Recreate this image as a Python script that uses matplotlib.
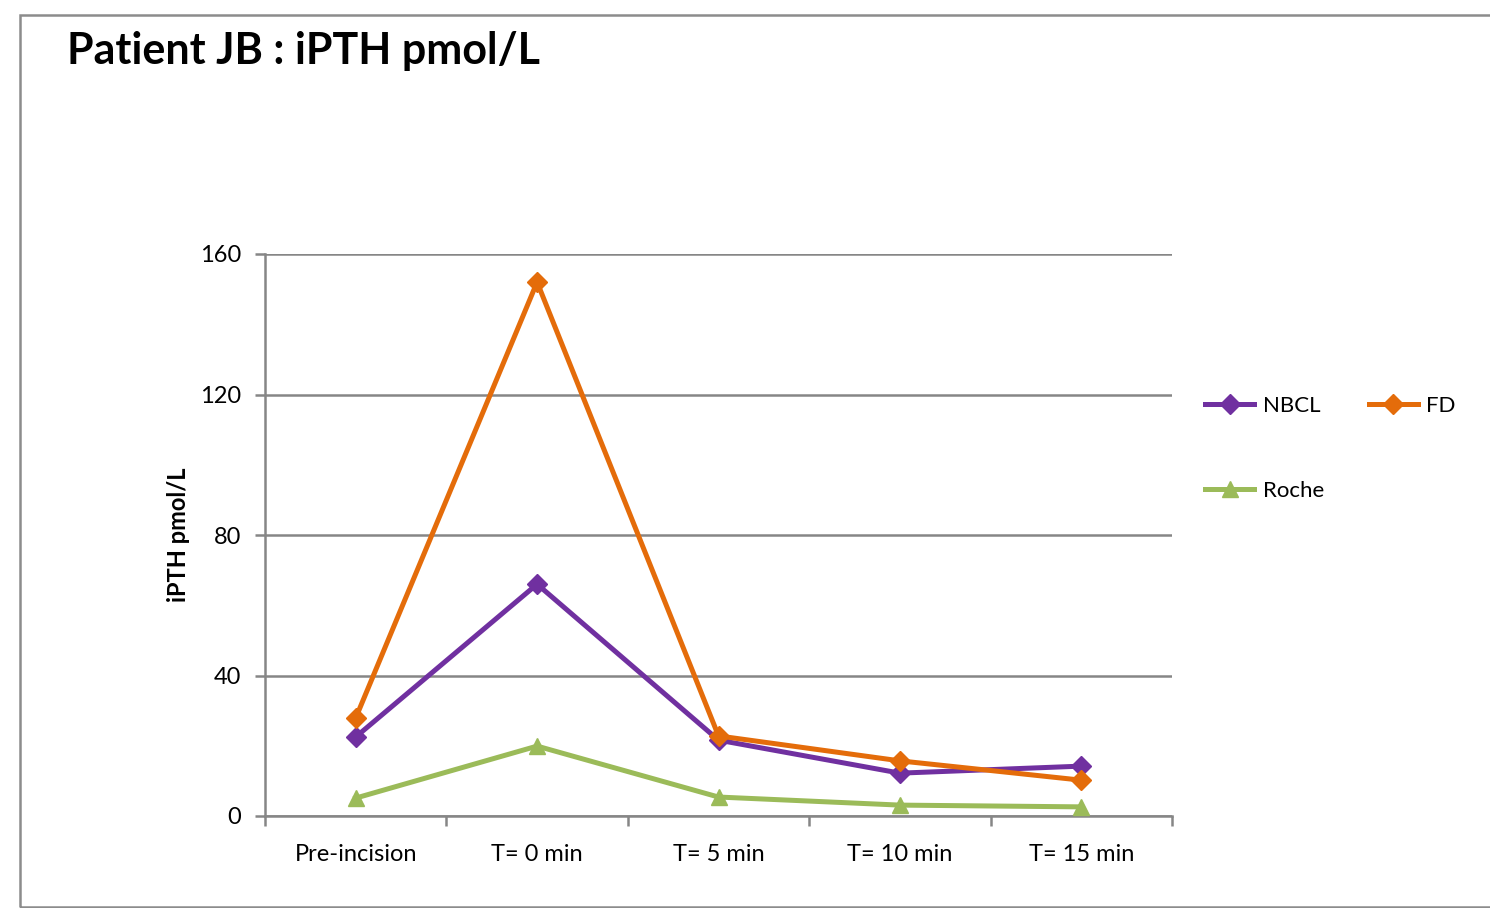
import matplotlib.pyplot as plt
from matplotlib.patches import Rectangle
import numpy as np

plt.rcParams['font.family'] = ['Lato', 'DejaVu Sans']

# data
timepoints = ['Pre-incision', 'T= 0 min', 'T= 5 min', 'T= 10 min', 'T= 15 min']
nbcl = [22.5, 66, 21.6, 12.2, 14.2]
fd = [27.9, 152, 22.8, 15.7, 10.2]
roche = [5.1, 19.9, 5.4, 3.1, 2.6]
yticks = [0, 40, 80, 120, 160]

grey = '#868686'

fig = plt.figure(figsize=(14.9, 9.08), dpi=100)
ax = fig.add_axes([265 / 1490, 1 - 816 / 908, 907 / 1490, 562 / 908])

# chart border
fig.patches.append(Rectangle((20 / 1490, 1 - 907 / 908), 1.2, 892 / 908,
                             transform=fig.transFigure, fill=False,
                             edgecolor='#8c8c8c', linewidth=1.8, zorder=0))

x = np.arange(len(timepoints))
l1, = ax.plot(x, nbcl, color='#7030A0', lw=3.6, marker='D', ms=10, label='NBCL', zorder=3)
l2, = ax.plot(x, fd, color='#E46C0A', lw=3.6, marker='D', ms=10, label='FD', zorder=3)
l3, = ax.plot(x, roche, color='#9BBB59', lw=3.6, marker='^', ms=12, label='Roche', zorder=3)

ax.set_xlim(-0.5, len(timepoints) - 0.5)
ax.set_ylim(0, 160)
ax.set_yticks(yticks)
ax.set_xticks(x)
ax.set_xticklabels(timepoints, fontsize=17)
ax.set_xticks(np.arange(-0.5, len(timepoints)), minor=True)
ax.tick_params(axis='x', which='major', length=0, pad=20)
ax.tick_params(axis='x', which='minor', length=7, width=1.8, color=grey, direction='out')
ax.tick_params(axis='y', length=7, width=1.8, color=grey, labelsize=17, pad=10)
ax.yaxis.grid(True, color=grey, lw=1.8)
ax.set_axisbelow(True)
for s in ['top', 'right']:
    ax.spines[s].set_visible(False)
for s in ['left', 'bottom']:
    ax.spines[s].set_color(grey)
    ax.spines[s].set_linewidth(1.8)

ax.set_ylabel('iPTH pmol/L', fontsize=17, fontweight='bold', labelpad=7)

fig.text(67 / 1490, 1 - 51 / 908, 'Patient JB : iPTH pmol/L', fontsize=31,
         fontweight='bold', va='center', ha='left')

# column-wise fill: NBCL, Roche | FD
ax.legend([l1, l3, l2], ['NBCL', 'Roche', 'FD'], loc='upper left',
          bbox_to_anchor=(1.0145, 0.7835), ncol=2, frameon=False,
          fontsize=16, handlelength=2.2, labelspacing=2.95, columnspacing=2.0,
          handletextpad=0.4)

fig.savefig('out.png', dpi=100)
